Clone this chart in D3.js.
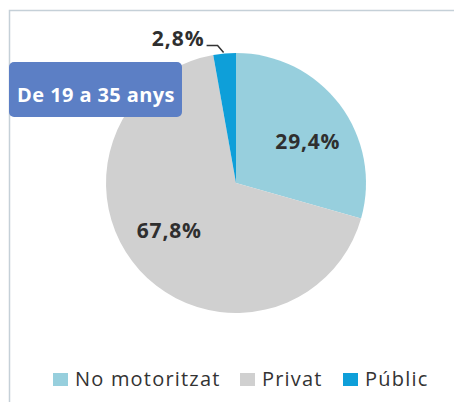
<!DOCTYPE html>
<html>
<head>
<meta charset="utf-8">
<script src="https://cdn.jsdelivr.net/npm/d3@7"></script>
<style>
  body { margin: 0; background: #fff; }
  svg { display: block; font-family: "Open Sans", "Noto Sans", sans-serif; }
</style>
</head>
<body>
<svg id="chart"></svg>
<script>
// dades
const categories = ['No motoritzat', 'Privat', 'Públic'];
const values = [29.4, 67.8, 2.8];
const colors = ['#97CFDD', '#D0D0D0', '#0E9FD9'];
const title = 'De 19 a 35 anys';

const width = 454, height = 402;
const svg = d3.select('#chart').attr('width', width).attr('height', height);

// marc
svg.append('path')
  .attr('d', `M9.5,${height} V10.5 H${width}`)
  .attr('fill', 'none')
  .attr('stroke', '#C5D0D8')
  .attr('stroke-width', 1.5);

const cx = 236, cy = 183, r = 130;
const data = categories.map((c, i) => ({ name: c, value: values[i], color: colors[i] }));

const pie = d3.pie().value(d => d.value).sort(null);
const arcs = pie(data);
const arc = d3.arc().innerRadius(0).outerRadius(r);

const g = svg.append('g').attr('transform', `translate(${cx},${cy})`);
g.selectAll('path')
  .data(arcs)
  .join('path')
  .attr('d', arc)
  .attr('fill', d => d.data.color);

const fmt = v => d3.format('.1f')(v).replace('.', ',') + '%';

// etiquetes interiors (posició el·líptica, com l'Excel)
const midAngle = d => (d.startAngle + d.endAngle) / 2;
g.selectAll('text.inner')
  .data(arcs.filter(d => d.data.value > 10))
  .join('text')
  .attr('class', 'inner')
  .attr('x', d => Math.sin(midAngle(d)) * 90)
  .attr('y', d => -Math.cos(midAngle(d)) * 70)
  .attr('text-anchor', 'middle')
  .attr('dy', '0.4em')
  .attr('font-size', 21)
  .attr('font-weight', 'bold')
  .attr('letter-spacing', 0.8)
  .attr('fill', '#2F2F2F')
  .text(d => fmt(d.data.value));

// etiqueta exterior per al sector petit
arcs.filter(d => d.data.value <= 10).forEach(d => {
  const a = midAngle(d);
  const px = Math.sin(a) * r, py = -Math.cos(a) * r;
  g.append('path')
    .attr('d', `M${px - 1},${py - 1} L${px - 7},${py - 8} H${px - 18}`)
    .attr('fill', 'none')
    .attr('stroke', '#333')
    .attr('stroke-width', 1.5);
  g.append('text')
    .attr('x', px - 20)
    .attr('y', py - 8)
    .attr('text-anchor', 'end')
    .attr('font-size', 21)
    .attr('font-weight', 'bold')
    .attr('letter-spacing', 1)
    .attr('fill', '#2F2F2F')
    .text(fmt(d.data.value));
});

// caixa del títol
svg.append('rect')
  .attr('x', 9).attr('y', 62)
  .attr('width', 173).attr('height', 55)
  .attr('rx', 5)
  .attr('fill', '#5C7FC5');
svg.append('text')
  .attr('x', 96).attr('y', 102)
  .attr('text-anchor', 'middle')
  .attr('font-size', 20)
  .attr('font-weight', 'bold')
  .attr('letter-spacing', 0.4)
  .attr('fill', '#fff')
  .text(title);

// llegenda
const legendX = [53, 240, 343];
const legend = svg.append('g').selectAll('g')
  .data(data)
  .join('g')
  .attr('transform', (d, i) => `translate(${legendX[i]},379)`);
legend.append('rect')
  .attr('x', 0).attr('y', -6)
  .attr('width', 15).attr('height', 13)
  .attr('fill', d => d.color);
legend.append('text')
  .attr('x', 22)
  .attr('y', 7)
  .attr('font-size', 20)
  .attr('letter-spacing', 1.2)
  .attr('fill', '#333')
  .text(d => d.name);
</script>
</body>
</html>
